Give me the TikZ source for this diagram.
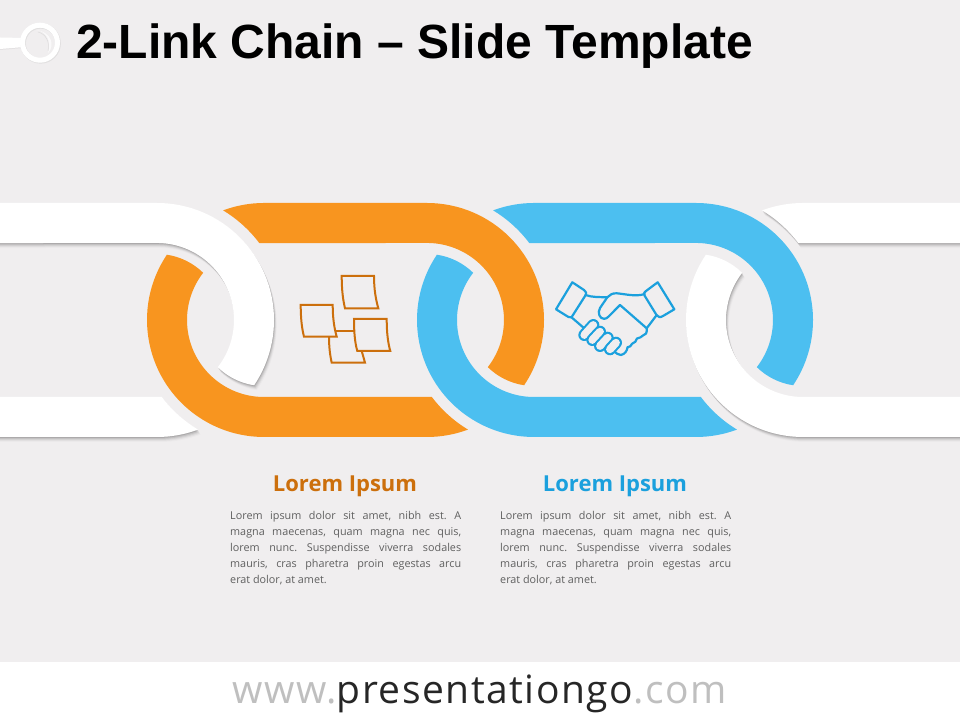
\documentclass[tikz,border=0pt]{standalone}
\usepackage{fontspec}
\setmainfont{Open Sans}
\newfontfamily\titleF{Liberation Sans}
\newfontfamily\siteF[LetterSpace=3.9]{Open Sans}
\definecolor{pagebg}{HTML}{F0EEEF}
\definecolor{linkorange}{HTML}{F8951F}
\definecolor{linkblue}{HTML}{4CBFF0}
\definecolor{textorange}{HTML}{CC6F0C}
\definecolor{textblue}{HTML}{1BA0DD}
\definecolor{bodygray}{HTML}{5F5F5F}
\definecolor{sitegray}{HTML}{BFBFBF}
\definecolor{sitedark}{HTML}{262626}
\newcommand\pieceA[2]{(#1-40.9,509.6) arc[start angle=110.5,end angle=90,radius=117] -- (#2,517) arc[start angle=90,end angle=-33.9,radius=117] arc[start angle=261.4,end angle=225.6,radius=66] arc[start angle=-37.8,end angle=90,radius=77] -- (#1-4.64,476.86) arc[start angle=36.9,end angle=58.9,radius=128] -- cycle}
\newcommand\pieceB[2]{(#1-97.1,465.26) arc[start angle=146.1,end angle=270,radius=117] -- (#2,283) arc[start angle=270,end angle=290.5,radius=117] arc[start angle=238.9,end angle=216.9,radius=128] -- (#1,323) arc[start angle=270,end angle=142.2,radius=77] arc[start angle=45.6,end angle=81.4,radius=66] -- cycle}
\newcommand\colourlink[3]{\fill[#3] \pieceA{#1}{#2}; \fill[#3] \pieceB{#1}{#2};}
\newcommand\whitelink[2]{%
  \foreach \dx/\dy/\op in {0.5/-1/.11,1/-2/.08,1.6/-3/.06,2.2/-4/.04,2.8/-5/.02}{
    \fill[black,opacity=\op,shift={(\dx,\dy)}] \pieceA{#1}{#2};
    \fill[black,opacity=\op,shift={(\dx,\dy)}] \pieceB{#1}{#2};
  }
  \fill[white] \pieceA{#1}{#2}; \fill[white] \pieceB{#1}{#2};}
\newcommand\jl[1]{\hbox to 231pt{\spaceskip=.26em plus 1em minus .1em #1}}
\newcommand\bodytext{\vbox{\frenchspacing\hsize=231pt\baselineskip=16pt\lineskiplimit=-20pt\jl{Lorem ipsum dolor sit amet, nibh est. A}\jl{magna maecenas, quam magna nec quis,}\jl{lorem nunc. Suspendisse viverra sodales}\jl{mauris, cras pharetra proin egestas arcu}\hbox{erat dolor, at amet.}}}
\tikzset{
  pxs/.style={shift={(0,720)},yscale=-1},
  noteline/.style={draw=textorange,line width=2pt,line join=miter},
  shakeline/.style={draw=textblue,line width=2.2pt,line join=round,line cap=round},
  bodynode/.style={anchor=north west,inner sep=0pt,text=bodygray,font=\fontsize{10.8pt}{16pt}\selectfont},
  headnode/.style={inner sep=0pt,font=\bfseries\fontsize{22pt}{24pt}\selectfont},
}
\begin{document}
\begin{tikzpicture}[x=1pt,y=1pt]
\useasboundingbox (0,0) rectangle (960,720);
\fill[pagebg] (0,0) rectangle (960,720);
\fill[white] (0,0) rectangle (960,58);
\begin{scope}
\clip (0,0) rectangle (960,720);
\whitelink{-300}{157}
\whitelink{803}{1250}
\colourlink{264}{427}{linkorange}
\colourlink{534}{696}{linkblue}
\end{scope}
% title ornament
\begin{scope}[pxs]
\fill[black,opacity=.05] (0,38.5) -- (24,39) -- (24,48) -- (0,50) -- cycle;
\fill[white] (0,37.5) -- (24,38) -- (24,47) -- (0,49) -- cycle;
\draw[black,opacity=.06,line width=5.5pt] (40.6,43.4) circle (17.5);
\draw[white,line width=5pt] (40,42.7) circle (17.5);
\fill[white,opacity=.7] (36,30) .. controls (46,31) and (52,41) .. (48,53) .. controls (55,46) and (52,32) .. (36,30);
\draw[black!25,opacity=.4,line width=.5pt] (38,32) .. controls (46,34) and (50,42) .. (48,51);
\end{scope}
\node[anchor=base west,inner sep=0pt,font=\titleF\bfseries\fontsize{48pt}{52pt}\selectfont] (title) at (76,661) {2-Link Chain – Slide Template};
% sticky notes
\begin{scope}[pxs]
\path[noteline] (329,336.7) .. controls (329,347) and (330,355) .. (331.7,362.7) -- (365,362.7) -- (361.7,351);
\path[noteline] (335.7,330.7) -- (354,330.7);
\path[noteline] (341.7,276) -- (374,276) .. controls (374,290) and (376,300) .. (378.3,308.3) -- (345,308.3) .. controls (343,300) and (341.7,290) .. (341.7,276) -- cycle;
\path[noteline] (300.7,305) -- (332.7,305) .. controls (332.7,319) and (334.5,329) .. (336.7,336.7) -- (304,336.7) .. controls (302,329) and (300.7,319) .. (300.7,305) -- cycle;
\path[noteline] (354,319) -- (386.7,319) .. controls (386.7,333) and (388,343) .. (390.3,351) -- (357.3,351) .. controls (355,343) and (354,333) .. (354,319) -- cycle;
% handshake
\path[shakeline] (572.3,282.3) -- (584,290) .. controls (586.5,292) and (586.5,293) .. (585.7,295) -- (571.5,317.3) .. controls (569,317.5) and (568,317) .. (566,315.5) -- (556,309.3) -- cycle;
\path[shakeline] (657.7,282.3) -- (674.3,309.3) -- (663,316) .. controls (660,318) and (658,317) .. (656.5,315) -- (644.5,295.5) .. controls (643.5,293) and (644.5,292) .. (646,291) -- cycle;
\path[shakeline] (585.5,295) .. controls (592,297.5) and (600,297) .. (607.3,297.3) .. controls (610,295) and (612,293) .. (616.7,293.3) .. controls (625,294) and (636,297) .. (644.5,294);
\path[shakeline] (607.3,297.3) -- (600,308) .. controls (597,313) and (600,319) .. (604,318.8) .. controls (606,318.8) and (607,318) .. (608.3,316.8) -- (620,305) -- (646.7,328.3);
\path[shakeline] (656.7,315) -- (646.7,328.3) .. controls (647,333) and (646,335) .. (643,335.5) .. controls (641,337) and (640,338) .. (637,338.5) .. controls (636,341) and (635,343) .. (632,343.8) .. controls (631,346) and (630,347) .. (627.5,347.3) .. controls (627,351) and (625,354) .. (621,355) .. controls (618,355) and (616,353) .. (614.5,351.5);
\path[shakeline] (571.5,317.3) -- (583.3,327.5);
\foreach \xa/\ya/\xb/\yb in {593.3/325/584.3/335, 600/331.7/592.3/340, 607.7/337.7/600/346, 616/342.7/610/349.3}{
  \draw[textblue,line width=12pt,line cap=round] (\xa,\ya) -- (\xb,\yb);
  \draw[pagebg,line width=7.8pt,line cap=round] (\xa,\ya) -- (\xb,\yb);
}
\end{scope}
% captions
\node[headnode,text=textorange] (headA) at (345,234) {Lorem Ipsum};
\node[headnode,text=textblue] (headB) at (615,234) {Lorem Ipsum};
\node[bodynode] (bodyA) at (230,208.5) {\bodytext};
\node[bodynode] (bodyB) at (500,208.5) {\bodytext};
% footer
\node[anchor=base,inner sep=0pt,font=\siteF\fontsize{39pt}{42pt}\selectfont] (site) at (479.5,17) {\textcolor{sitegray}{www.}\textcolor{sitedark}{presentationgo}\textcolor{sitegray}{.com}};
\end{tikzpicture}
\end{document}
